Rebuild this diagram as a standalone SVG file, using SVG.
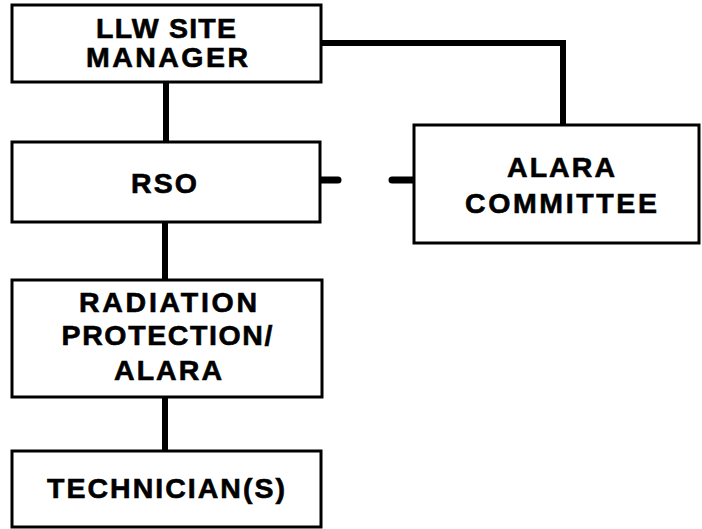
<svg xmlns="http://www.w3.org/2000/svg" width="702" height="529" viewBox="0 0 702 529">
<style>
.box{fill:#fff;stroke:#000;stroke-width:3}
.t{font-family:"Liberation Sans",Arial,sans-serif;font-weight:bold;font-size:28.5px;fill:#000;stroke:#000;stroke-width:0.6;text-anchor:middle}
.c{fill:none;stroke:#000;stroke-width:6}
.s{fill:none;stroke:#000;stroke-width:7;stroke-linecap:round}
</style>
<rect width="702" height="529" fill="#fff"/>
<g id="connectors">
<path class="c" d="M166,82 V142"/>
<path class="c" d="M165,222 V280"/>
<path class="c" d="M165,397 V451"/>
<path class="c" d="M321,43 H563 V125"/>
<path class="s" d="M321,180 H338"/>
<path class="s" d="M392,180 H414"/>
</g>
<g id="llw">
<rect class="box" x="12" y="5" width="309" height="77"/>
<text class="t" x="166" y="38" textLength="140" lengthAdjust="spacing">LLW SITE</text>
<text class="t" x="167" y="67" textLength="162" lengthAdjust="spacing">MANAGER</text>
</g>
<g id="rso">
<rect class="box" x="12" y="142" width="308" height="80"/>
<text class="t" x="164" y="193" textLength="66" lengthAdjust="spacing">RSO</text>
</g>
<g id="alara">
<rect class="box" x="414" y="125" width="285" height="118"/>
<text class="t" x="561" y="177" textLength="108" lengthAdjust="spacing">ALARA</text>
<text class="t" x="561" y="213" textLength="192" lengthAdjust="spacing">COMMITTEE</text>
</g>
<g id="radiation">
<rect class="box" x="12" y="280" width="310" height="117"/>
<text class="t" x="168" y="312" textLength="178" lengthAdjust="spacing">RADIATION</text>
<text class="t" x="167" y="345" textLength="211" lengthAdjust="spacing">PROTECTION/</text>
<text class="t" x="168" y="380" textLength="108" lengthAdjust="spacing">ALARA</text>
</g>
<g id="technician">
<rect class="box" x="12" y="451" width="309" height="76"/>
<text class="t" x="166" y="498" textLength="238" lengthAdjust="spacing">TECHNICIAN(S)</text>
</g>
</svg>
